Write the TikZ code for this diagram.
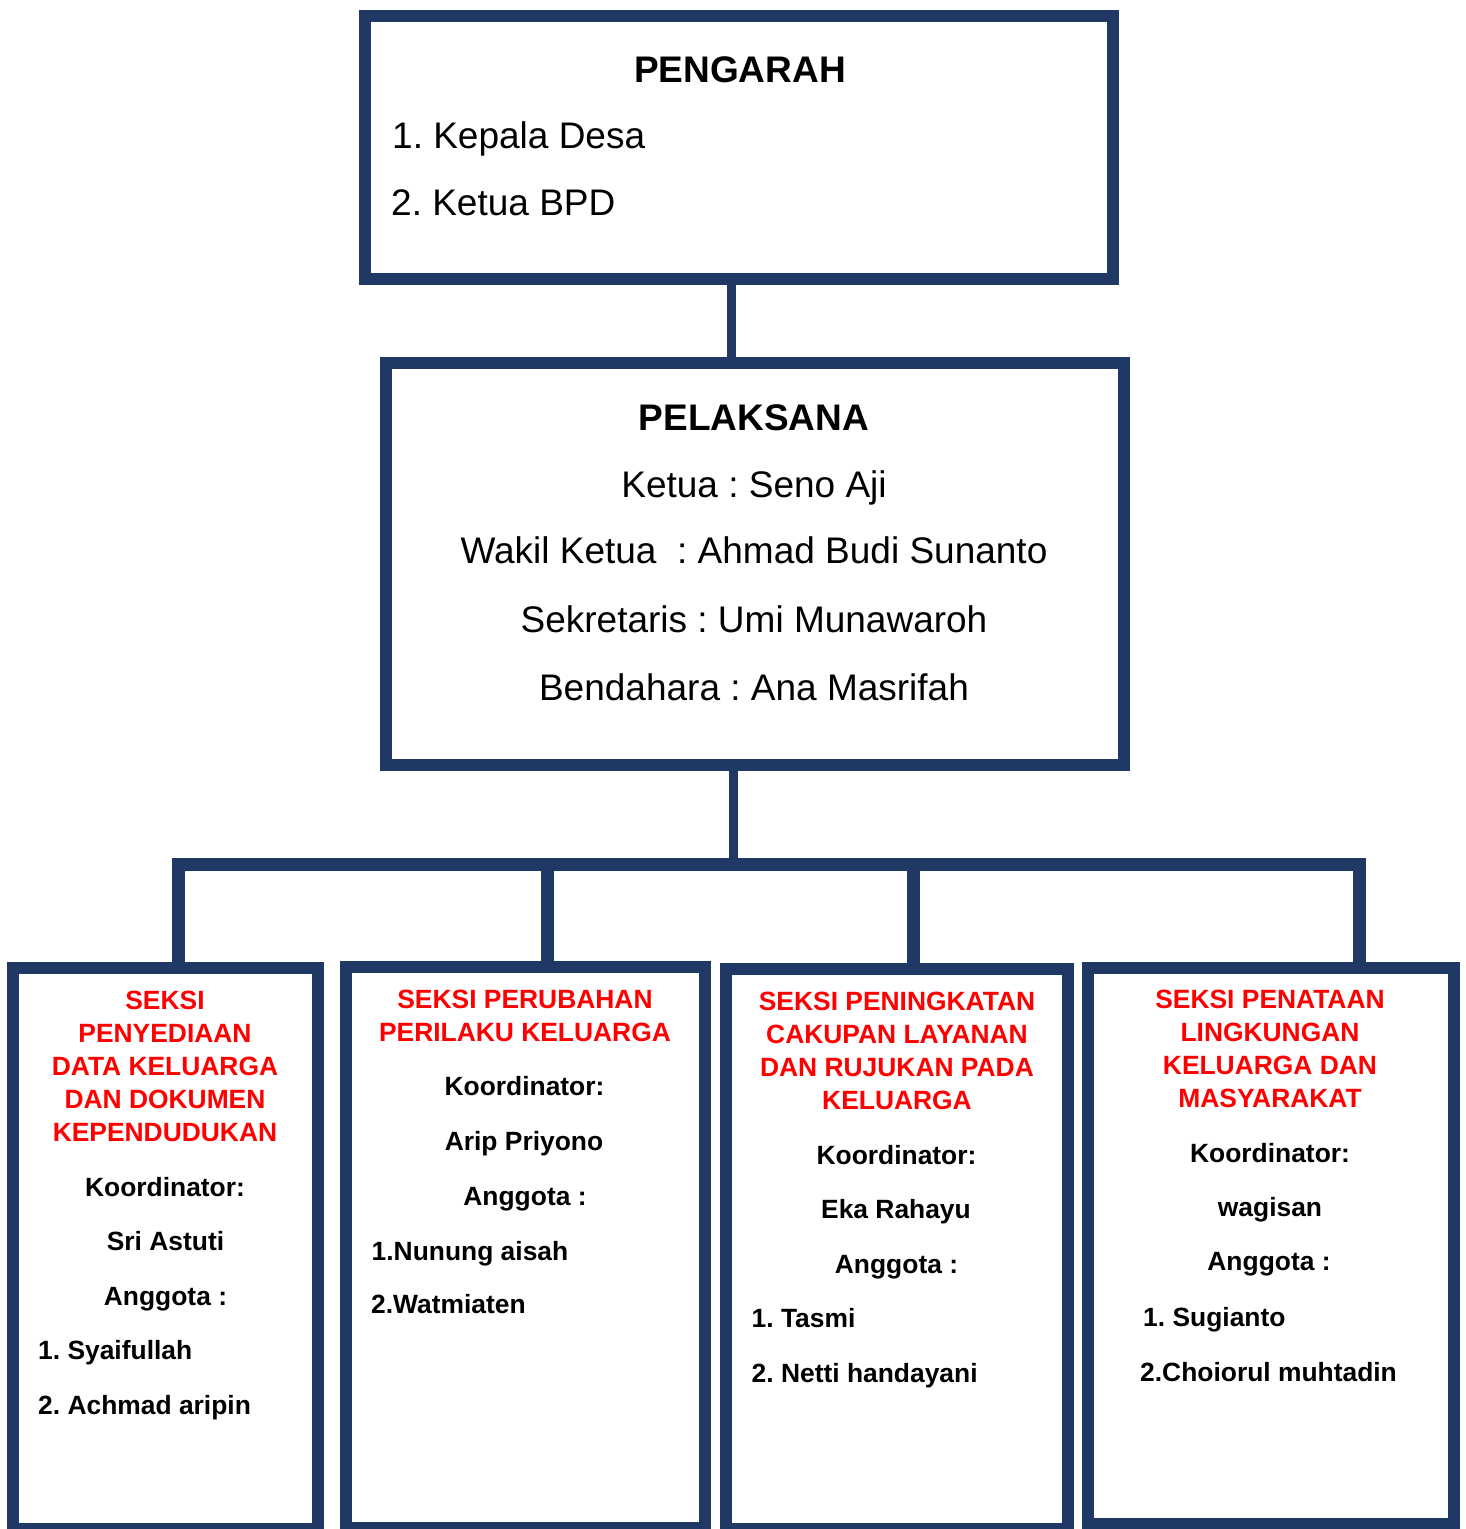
\documentclass[tikz,border=0pt]{standalone}
\usepackage{fontspec}
\setmainfont{Liberation Sans}
\definecolor{orgblue}{RGB}{32,56,100}
\definecolor{orgred}{RGB}{255,0,0}
\tikzset{
	box/.style={draw=orgblue, line width=12.5pt, inner sep=0pt},
	link/.style={draw=orgblue, line width=13pt, line join=miter},
	thinlink/.style={draw=orgblue, line width=9.5pt},
	bigtext/.style={inner sep=0pt, font=\fontsize{37}{44}\selectfont},
	bigtitle/.style={inner sep=0pt, anchor=base, font=\fontsize{37}{44}\selectfont\bfseries},
	redtext/.style={inner sep=0pt, anchor=north, align=center, text=orgred, font=\fontsize{26.4}{33}\selectfont\bfseries},
	seksitext/.style={inner sep=0pt, font=\fontsize{26.4}{33}\selectfont\bfseries},
}

\begin{document}
\frenchspacing
\begin{tikzpicture}[x=1pt, y=-1pt]
		%%%%% START %%%%%
		\useasboundingbox (0,0) rectangle (1465,1529);
		
		\node[box, minimum width=748pt, minimum height=263pt] (pengarah) at (739,147.5) {};
		\node[bigtitle] (pengarahT) at (740,82) {PENGARAH};
		\node[bigtext, anchor=base west] (kades) at (392,148) {1. Kepala Desa};
		\node[bigtext, anchor=base west] (kbpd) at (391,215) {2. Ketua BPD};
		
		\node[box, minimum width=738pt, minimum height=402pt] (pelaksana) at (755,564) {};
		\node[bigtitle] (pelaksanaT) at (754,430) {PELAKSANA};
		\node[bigtext, anchor=base] (ketua) at (754,497) {Ketua : Seno Aji};
		\node[bigtext, anchor=base] (wakil) at (754,563) {Wakil Ketua\ \ : Ahmad Budi Sunanto};
		\node[bigtext, anchor=base] (sekre) at (754,632) {Sekretaris : Umi Munawaroh};
		\node[bigtext, anchor=base] (benda) at (754,700) {Bendahara : Ana Masrifah};
		
		\coordinate (c0) at (731.5,300);
		\coordinate (bar) at (733.5,864.5);
		\coordinate (d1) at (178,864.5);
		\coordinate (d2) at (547.5,864.5);
		\coordinate (d3) at (913.5,864.5);
		\coordinate (d4) at (1359.5,864.5);
		
		\node[box, minimum width=305pt, minimum height=561pt] (penyediaan) at (165.5,1248.5) {};
		\node[box, minimum width=359pt, minimum height=561pt] (perubahan) at (525.5,1247.5) {};
		\node[box, minimum width=342pt, minimum height=560pt] (peningkatan) at (897,1249) {};
		\node[box, minimum width=366pt, minimum height=556pt] (penataan) at (1271,1246) {};
		
		\draw[thinlink] (pengarah.south -| c0) -- (pelaksana.north -| c0);
		\draw[thinlink] (pelaksana.south -| bar) -- (bar);
		\draw[link] (penyediaan.north -| d1) -- (d1) -- (d4) -- (penataan.north -| d4);
		\draw[link] (d2) -- (perubahan.north -| d2);
		\draw[link] (d3) -- (peningkatan.north -| d3);
		
		% seksi 1
		\node[redtext] (penyediaanT) at (165,990.5) {SEKSI\\PENYEDIAAN\\DATA KELUARGA\\DAN DOKUMEN\\KEPENDUDUKAN};
		\node[seksitext, anchor=base] (koor1) at (165,1196) {Koordinator:};
		\node[seksitext, anchor=base] (nama1) at (165.5,1250) {Sri Astuti};
		\node[seksitext, anchor=base] (angg1) at (165.5,1305) {Anggota :};
		\node[seksitext, anchor=base west] (a11) at (38,1359) {1. Syaifullah};
		\node[seksitext, anchor=base west] (a12) at (38,1414) {2. Achmad aripin};
		
		% seksi 2
		\node[redtext] (perubahanT) at (525,989.5) {SEKSI PERUBAHAN\\PERILAKU KELUARGA};
		\node[seksitext, anchor=base] (koor2) at (524.5,1095) {Koordinator:};
		\node[seksitext, anchor=base] (nama2) at (524,1150) {Arip Priyono};
		\node[seksitext, anchor=base] (angg2) at (525,1205) {Anggota :};
		\node[seksitext, anchor=base west] (a21) at (371.5,1260) {1.Nunung aisah};
		\node[seksitext, anchor=base west] (a22) at (371,1313) {2.Watmiaten};
		
		% seksi 3
		\node[redtext] (peningkatanT) at (897,991.5) {SEKSI PENINGKATAN\\CAKUPAN LAYANAN\\DAN RUJUKAN PADA\\KELUARGA};
		\node[seksitext, anchor=base] (koor3) at (896.5,1164) {Koordinator:};
		\node[seksitext, anchor=base] (nama3) at (896,1218) {Eka Rahayu};
		\node[seksitext, anchor=base] (angg3) at (896.5,1273) {Anggota :};
		\node[seksitext, anchor=base west] (a31) at (751.5,1327) {1. Tasmi};
		\node[seksitext, anchor=base west] (a32) at (751.5,1382) {2. Netti handayani};
		
		% seksi 4
		\node[redtext] (penataanT) at (1270,989.5) {SEKSI PENATAAN\\LINGKUNGAN\\KELUARGA DAN\\MASYARAKAT};
		\node[seksitext, anchor=base] (koor4) at (1270,1162) {Koordinator:};
		\node[seksitext, anchor=base] (nama4) at (1270,1216) {wagisan};
		\node[seksitext, anchor=base] (angg4) at (1269,1270) {Anggota :};
		\node[seksitext, anchor=base west] (a41) at (1143,1326) {1. Sugianto};
		\node[seksitext, anchor=base west] (a42) at (1140,1381) {2.Choiorul muhtadin};
		
		%%%%% END %%%%%
	\end{tikzpicture}
\end{document}
